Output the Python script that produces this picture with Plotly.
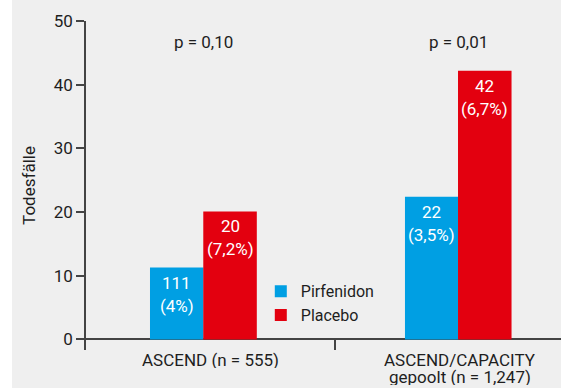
import plotly.graph_objects as go

# ---- data ----
categories = ["ASCEND (n = 555)", "ASCEND/CAPACITY<br>gepoolt (n = 1,247)"]
series_names = ["Pirfenidon", "Placebo"]
pirfenidon = [11.3, 22.4]
placebo = [20.1, 42.2]
pirf_counts = ["111", "22"]
pirf_pcts = ["(4%)", "(3,5%)"]
plac_counts = ["20", "42"]
plac_pcts = ["(7,2%)", "(6,7%)"]
p_values = ["p = 0,10", "p = 0,01"]
y_ticks = [0, 10, 20, 30, 40, 50]

# ---- style ----
BLUE = "#009fe3"
RED = "#e3000f"
BG = "#efefef"
AX = "#444444"
TXT = "#1e1e1e"
FONT = "Roboto"
FS = 17

W = 0.215
pirf_off = [-0.243, -0.219]
plac_off = [-0.029, -0.006]

fig = go.Figure()
fig.add_trace(go.Bar(name=series_names[0], x=categories, y=pirfenidon,
                     width=W, offset=pirf_off, marker_color=BLUE,
                     marker_line_width=0, hoverinfo="skip"))
fig.add_trace(go.Bar(name=series_names[1], x=categories, y=placebo,
                     width=W, offset=plac_off, marker_color=RED,
                     marker_line_width=0, hoverinfo="skip"))

ann = []
for i in range(len(categories)):
    for vals, counts, pcts, offs in [(pirfenidon, pirf_counts, pirf_pcts, pirf_off),
                                     (placebo, plac_counts, plac_pcts, plac_off)]:
        xc = i + offs[i] + W / 2
        ann.append(dict(x=xc, y=vals[i], xref="x", yref="y", text=counts[i],
                        showarrow=False, yanchor="middle", yshift=-15,
                        font=dict(family=FONT, size=FS, color="white")))
        ann.append(dict(x=xc, y=vals[i], xref="x", yref="y", text=pcts[i],
                        showarrow=False, yanchor="middle", yshift=-38,
                        font=dict(family=FONT, size=FS, color="white")))
    gc = i + (pirf_off[i] + plac_off[i] + W) / 2
    ann.append(dict(x=gc, y=46.7, xref="x", yref="y", text=p_values[i],
                    showarrow=False, yanchor="middle",
                    font=dict(family=FONT, size=FS, color=TXT)))
    # category labels (tight line spacing, one annotation per line)
    for k, line in enumerate(categories[i].split("<br>")):
        ann.append(dict(x=i, y=0, xref="x", yref="paper", text=line,
                        showarrow=False, yanchor="middle", yshift=-10 - 17 * k,
                        height=16, valign="middle", borderpad=0,
                        font=dict(family=FONT, size=FS, color=TXT)))

fig.update_layout(
    width=561, height=388,
    margin=dict(l=86, r=0, t=21, b=38, autoexpand=False),
    paper_bgcolor=BG, plot_bgcolor=BG,
    font=dict(family=FONT, size=FS, color=TXT),
    showlegend=True,
    legend=dict(x=0.368, y=0.23, xanchor="left", yanchor="top",
                bgcolor="rgba(0,0,0,0)", font=dict(family=FONT, size=16, color=TXT)),
    annotations=ann,
    shapes=[dict(type="rect", xref="paper", yref="paper",
                 x0=-86 / 475, x1=-74 / 475, y0=-38 / 329, y1=1 + 21 / 329,
                 fillcolor="white", line_width=0, layer="below")],
    xaxis=dict(type="category", range=[-0.5, 1.5 - 23 / 249],
               tickson="boundaries", ticks="inside", ticklen=10.5,
               tickwidth=1.5, tickcolor=AX, showline=False, showgrid=False,
               zeroline=False, automargin=False, showticklabels=False),
    yaxis=dict(range=[-1.65, 50], tickvals=y_ticks, ticks="outside", ticklen=8,
               tickwidth=1.5, tickcolor=AX, showline=True, linecolor=AX,
               linewidth=1.5, showgrid=False, zeroline=True, zerolinecolor=AX,
               zerolinewidth=1.5, automargin=False,
               title=dict(text="Todesfälle", font=dict(family=FONT, size=FS, color=TXT),
                          standoff=14),
               tickfont=dict(family=FONT, size=FS, color=TXT)),
)

fig.write_html("out.html", config={"displayModeBar": False}, post_script=(
    "document.body.style.margin='0';document.body.style.padding='0';"
    "document.body.style.overflow='hidden';"))
